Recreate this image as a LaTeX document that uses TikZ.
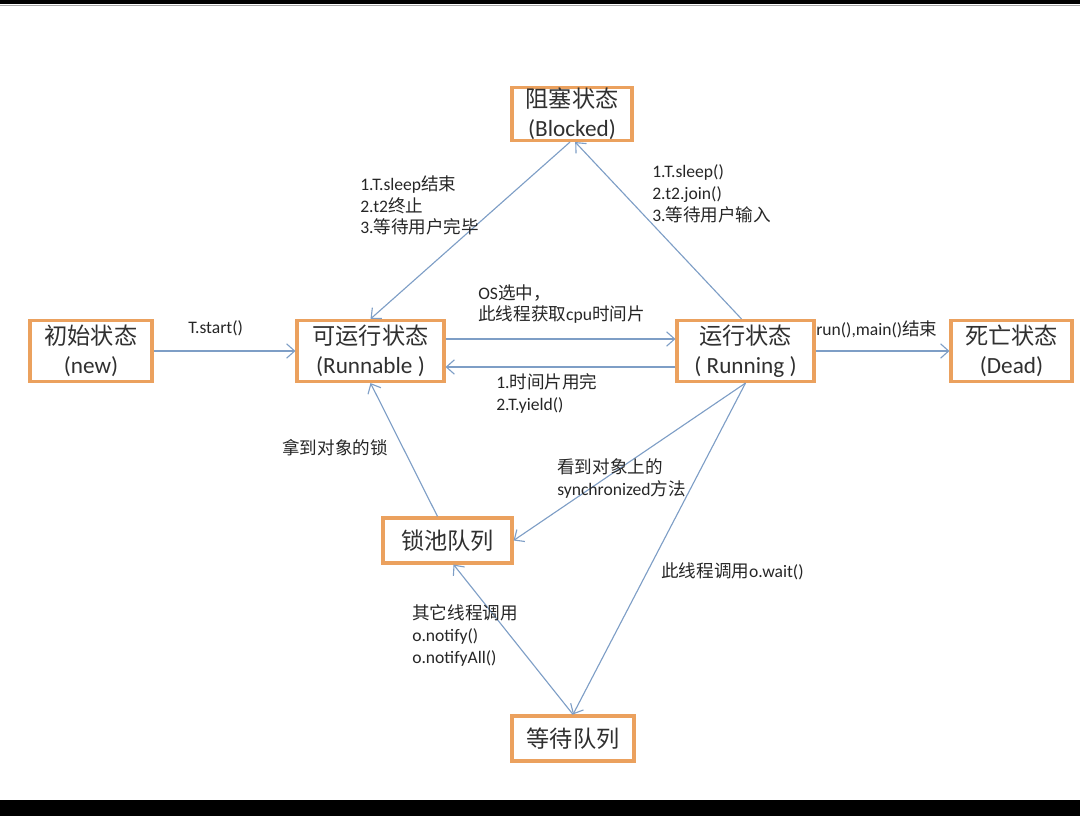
\documentclass[tikz,border=0pt]{standalone}
\usepackage{fontspec}
\setmainfont{Carlito}
\newfontfamily\zh{Noto Sans CJK SC}
\usepackage{xcolor}
\usetikzlibrary{arrows.meta, positioning}
\definecolor{boxorange}{HTML}{EBA15E}
\definecolor{flowblue}{HTML}{7E9EC6}
\definecolor{inkgray}{HTML}{303030}

\begin{document}
\begin{tikzpicture}[
    x=0.025cm, y=-0.025cm,
    state/.style={rectangle, draw=boxorange, line width=2.2pt, fill=white, align=center, text=inkgray,
                  font=\fontsize{16.5}{20.5}\selectfont, inner sep=0pt},
    twoline/.style={state, minimum height=1.525cm},
    oneline/.style={state, minimum height=1.125cm},
    note/.style={anchor=north west, inner sep=0pt, align=left, text=black!85,
                 font=\fontsize{12.5}{15.6}\selectfont},
    flow/.style={-{Straight Barb[length=2mm, width=3.6mm]}, draw=flowblue, line width=0.8pt}
]
    \useasboundingbox (0,0) rectangle (1080,816);
    % frame bars
    \fill[black] (0,0) rectangle (1080,4);
    \draw[black!35, line width=0.6pt] (0,5) -- (1080,5);
    \fill[black] (0,800) rectangle (1080,816);

    % states
    \node[twoline, minimum width=3cm, minimum height=1.325cm] (blocked) at (572,114) {{\zh 阻塞状态}\\(Blocked)};
    \node[twoline, minimum width=3.05cm] (new) at (91,351) {{\zh 初始状态}\\(new)};
    \node[twoline, minimum width=3.675cm] (runnable) at (370.5,351) {{\zh 可运行状态}\\(Runnable )};
    \node[twoline, minimum width=3.425cm] (running) at (745.5,351) {{\zh 运行状态}\\( Running )};
    \node[twoline, minimum width=3.025cm] (dead) at (1011.5,351) {{\zh 死亡状态}\\(Dead)};
    \node[oneline, minimum width=3.225cm] (lockpool) at (447.5,540.5) {\zh 锁池队列};
    \node[oneline, minimum width=3.05cm] (waitq) at (573,738.5) {\zh 等待队列};

    % transitions
    \draw[flow] (new.east) -- (runnable.west);
    \draw[flow] ([yshift=3mm]runnable.east) -- ([yshift=3mm]running.west);
    \draw[flow] ([yshift=-4mm]running.west) -- ([yshift=-4mm]runnable.east);
    \draw[flow] (running.east) -- (dead.west);
    \draw[flow] ([xshift=-0.5mm]blocked.south) -- (runnable.north);
    \draw[flow] ([xshift=-1mm]running.north) -- ([xshift=0.8mm]blocked.south);
    \draw[flow] (running.south) -- (lockpool.east);
    \draw[flow] (running.south) -- (waitq.north);
    \draw[flow] ([xshift=-2.5mm]lockpool.north) -- (runnable.south);
    \draw[flow] (waitq.north) -- ([xshift=1.5mm]lockpool.south);

    % labels
    \node[note] (unblock) at (360,175) {1.T.sleep{\zh 结束}\\2.t2{\zh 终止}\\3.{\zh 等待用户完毕}};
    \node[note] (toblock) at (652,164) {1.T.sleep()\\2.t2.join()\\3.{\zh 等待用户输入}};
    \node[note] (start) at (188,320) {T.start()};
    \node[note] (pick) at (478,284) {OS{\zh 选中，}\\{\zh 此线程获取}cpu{\zh 时间片}};
    \node[note] (yield) at (496,373) {1.{\zh 时间片用完}\\2.T.yield()};
    \node[note] (finish) at (816,320) {run(),main(){\zh 结束}};
    \node[note] (getlock) at (282,439) {\zh 拿到对象的锁};
    \node[note] (sync) at (557,458) {{\zh 看到对象上的}\\synchronized{\zh 方法}};
    \node[note] (callwait) at (661,562) {{\zh 此线程调用}o.wait()};
    \node[note] (notify) at (412,604) {{\zh 其它线程调用}\\o.notify()\\o.notifyAll()};
\end{tikzpicture}
\end{document}
